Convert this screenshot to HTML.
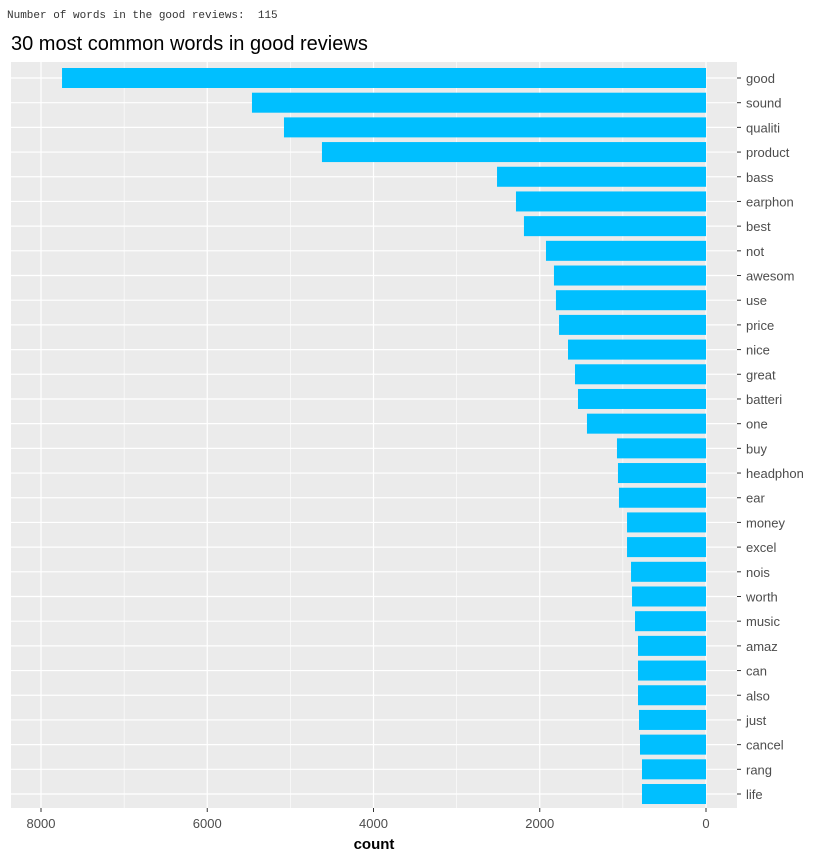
<!DOCTYPE html>
<html><head><meta charset="utf-8"><style>
body{margin:0;background:#fff;width:836px;height:855px;overflow:hidden}
svg text{font-family:"Liberation Sans",sans-serif}
</style></head><body>
<svg id="chart" width="836" height="855">
<text x="7" y="18" xml:space="preserve" font-size="11" fill="#333" style="font-family:'Liberation Mono',monospace;white-space:pre">Number of words in the good reviews:  115</text>
<text x="11" y="50" font-size="20" fill="#000">30 most common words in good reviews</text>
<rect x="11" y="62" width="726" height="746" fill="#EBEBEB"/>
<g id="grid"></g><g id="bars"></g><g id="labels"></g>
<text x="374" y="849" font-size="15" font-weight="bold" text-anchor="middle" fill="#000">count</text>
</svg>
<script>
const words=["good","sound","qualiti","product","bass","earphon","best","not","awesom","use","price","nice","great","batteri","one","buy","headphon","ear","money","excel","nois","worth","music","amaz","can","also","just","cancel","rang","life"];
const counts=[7747,5462,5077,4620,2514,2286,2190,1925,1829,1805,1768,1660,1576,1540,1432,1071,1059,1047,950,950,902,890,854,818,818,818,806,794,770,770];
const ticks=[0,2000,4000,6000,8000];
const NS="http://www.w3.org/2000/svg";
const x=v=>706-v*0.083125;
const y=i=>78+i*24.69;
function mk(t,a,p){const e=document.createElementNS(NS,t);for(const k in a)e.setAttribute(k,a[k]);p.appendChild(e);return e;}
const g=document.getElementById('grid'),b=document.getElementById('bars'),l=document.getElementById('labels');
for(let i=0;i<ticks.length-1;i++){const m=mk('line',{x1:x(ticks[i]+1000),x2:x(ticks[i]+1000),y1:62,y2:808,stroke:'#fff','stroke-width':0.6},g);

}
ticks.forEach(t=>{const ln=mk('line',{x1:x(t),x2:x(t),y1:62,y2:808,stroke:'#fff','stroke-width':1.2},g);


mk('line',{x1:x(t),x2:x(t),y1:808,y2:812,stroke:'#333'},g);
const tx=mk('text',{x:x(t),y:828,'font-size':13,'text-anchor':'middle',fill:'#4d4d4d'},l);tx.textContent=t;

});
words.forEach((w,i)=>{const gl=mk('line',{x1:11,x2:737,y1:y(i),y2:y(i),stroke:'#fff','stroke-width':1.2},g);


const r=mk('rect',{x:x(counts[i]),y:y(i)-10,width:706-x(counts[i]),height:20,fill:'#00BFFF'},b);


mk('line',{x1:737,x2:741,y1:y(i),y2:y(i),stroke:'#333'},g);
const tx=mk('text',{x:746,y:y(i)+5,'font-size':13,fill:'#4d4d4d'},l);tx.textContent=w;

});
</script>
</body></html>
